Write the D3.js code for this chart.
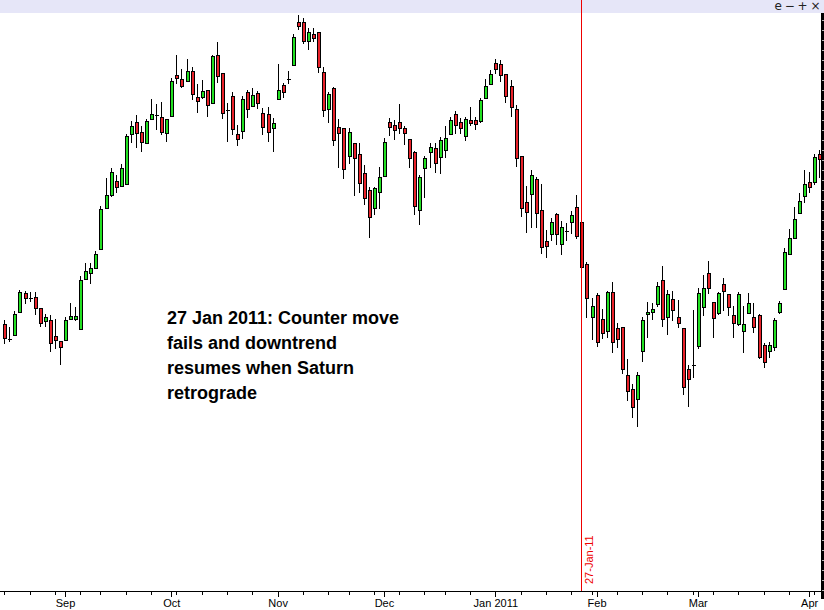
<!DOCTYPE html>
<html><head><meta charset="utf-8">
<script src="https://cdn.jsdelivr.net/npm/d3@7/dist/d3.min.js"></script>
<style>html,body{margin:0;padding:0;background:#fff;overflow:hidden}</style>
</head><body><svg id="c" width="824" height="610"></svg>
<script>
// Daily candles, 16 Aug 2010 .. 5 Apr 2011 (index = trading day), chart units
const openV = [276,261,265,288,307,302,303,292,279,280,264,259,260,281,281,271,321,327,332,351,392,405,419,414,416,
466,478,468,457,481,485,483,467,484,525,521,519,529,503,503,510,497,545,527,490,504,466,469,508,494,507,487,486,472,501,
515,521,535,578,578,559,566,568,528,491,512,473,472,444,457,446,427,410,392,408,424,478,475,478,472,461,448,390,432,448,
452,443,450,466,486,478,464,480,480,479,502,516,537,536,526,514,491,444,398,406,421,390,359,366,386,356,369,378,393,378,
336,283,305,281,269,308,272,273,225,211,201,249,286,288,296,320,283,301,283,272,231,235,254,293,327,298,287,316,306,285,
276,269,287,283,285,255,249,253,288,311,346,362,387,404,418,418,446];
const highV = [280,273,289,310,309,308,308,292,286,285,281,259,283,297,293,324,337,337,349,394,422,432,425,436,466,
479,485,474,481,501,496,498,481,522,545,531,541,533,516,520,510,545,558,527,497,508,475,504,510,512,509,492,493,482,536,
517,529,566,585,582,572,572,568,533,508,513,481,472,472,457,457,435,413,413,433,462,482,480,496,474,461,449,425,444,457,
457,463,474,483,489,482,483,493,483,502,521,530,541,540,526,520,495,444,414,430,423,416,370,382,387,379,377,389,405,382,
338,302,307,291,309,318,277,273,241,216,228,283,298,297,318,334,310,309,300,272,235,290,312,325,339,298,308,322,306,294,
308,294,307,297,286,257,258,282,299,352,371,393,407,430,428,446,450];
const lowV = [257,259,265,288,297,299,286,274,274,249,252,236,260,281,280,271,321,317,332,351,392,404,408,414,416,
458,453,449,457,481,471,466,459,484,517,513,519,501,488,502,484,497,518,482,459,466,455,462,483,494,492,466,459,449,501,
503,517,535,571,557,551,559,528,484,478,455,433,422,437,405,408,396,363,386,392,424,465,461,467,456,433,386,376,403,433,
428,427,443,466,467,467,460,475,471,478,502,516,527,519,498,484,434,384,368,373,373,347,343,360,356,346,360,367,362,332,
283,261,254,262,263,248,253,227,200,183,174,239,263,281,294,274,266,280,273,206,194,223,252,285,307,263,286,290,285,263,
275,248,287,268,242,233,243,250,287,311,346,362,387,398,408,416,423];
const closeV = [262,261,286,308,302,302,292,277,283,257,260,253,280,284,284,320,329,332,346,391,405,428,413,432,464,
474,467,458,479,486,485,468,481,519,522,514,529,506,499,509,495,544,524,487,490,471,461,501,491,505,497,473,468,477,510,
508,521,563,574,559,568,562,533,490,506,460,467,431,468,442,417,402,383,412,423,458,473,470,472,467,442,394,423,442,453,
437,460,462,480,475,472,481,477,476,500,514,526,531,525,504,493,442,392,388,425,387,353,354,378,366,373,369,385,364,333,
302,294,258,267,308,258,261,231,209,193,225,280,288,291,314,281,306,290,277,213,221,235,307,312,312,282,307,309,293,277,
306,276,297,273,243,238,255,280,297,348,362,381,399,416,413,443,441];

const monthLabels = ["Sep","Oct","Nov","Dec","Jan 2011","Feb","Mar","Apr"];
const monthStarts = [12,33,54,75,97,117,137,159];
const weekStarts = [0,5,10,15,19,24,29,34,39,44,49,54,59,64,68,73,78,83,87,92,97,102,107,112,116,121,126,131,136,140,145,150,155,160];
const eventIndex = 114;
const eventLabel = "27-Jan-11";
const noteLines = ["27 Jan 2011: Counter move","fails and downtrend","resumes when Saturn","retrograde"];

const W = 824, H = 610, axisY = 591;
const svg = d3.select("#c");
svg.append("rect").attr("width", W).attr("height", H).attr("fill", "#fff");

const x = d3.scaleLinear().domain([0, openV.length - 1]).range([4.3, 819.3]);
const y = d3.scaleLinear().domain([0, 600]).range([600, 0]);

// top band
svg.append("rect").attr("x", 0).attr("y", 0).attr("width", W).attr("height", 13).attr("fill", "#e6e6f8");
svg.append("text").attr("x", 820).attr("y", 10).attr("text-anchor", "end")
  .attr("font-family", "'DejaVu Sans', sans-serif").attr("font-size", 12).attr("fill", "#222")
  .attr("letter-spacing", -0.5)
  .text("e \u2212 + \u00d7");

// right edge bar
svg.append("rect").attr("x", 821).attr("y", 13).attr("width", 3).attr("height", axisY - 13 + 8).attr("fill", "#000");
const rTicks = d3.range(20, axisY, 10);
svg.selectAll("line.rt").data(rTicks).join("line").attr("class", "rt")
  .attr("x1", 822).attr("x2", 824).attr("y1", d => d + 0.5).attr("y2", d => d + 0.5)
  .attr("stroke", "#fff").attr("stroke-width", 1).attr("opacity", 0.7);

// candles
const data = openV.map((o, i) => ({i, o, h: highV[i], l: lowV[i], c: closeV[i]}));
const g = svg.append("g").attr("shape-rendering", "crispEdges");
const cg = g.selectAll("g.k").data(data).join("g").attr("class", "k");
cg.append("line")
  .attr("x1", d => Math.round(x(d.i)) + 0.5).attr("x2", d => Math.round(x(d.i)) + 0.5)
  .attr("y1", d => Math.round(y(d.h))).attr("y2", d => Math.round(y(d.l)) + 1)
  .attr("stroke", "#000").attr("stroke-width", 1);
cg.filter(d => d.o !== d.c).append("rect")
  .attr("x", d => Math.round(x(d.i)) - 0.5)
  .attr("y", d => Math.round(y(Math.max(d.o, d.c))) + 0.5)
  .attr("width", 3)
  .attr("height", d => Math.max(1, Math.round(y(Math.min(d.o, d.c))) - Math.round(y(Math.max(d.o, d.c)))))
  .attr("fill", d => d.c > d.o ? "#22e022" : "#e8222a")
  .attr("stroke", "#000").attr("stroke-width", 1);
cg.filter(d => d.o === d.c).append("line")
  .attr("x1", d => Math.round(x(d.i)) - 1).attr("x2", d => Math.round(x(d.i)) + 3)
  .attr("y1", d => Math.round(y(d.o)) + 0.5).attr("y2", d => Math.round(y(d.o)) + 0.5)
  .attr("stroke", "#000").attr("stroke-width", 1);

// event line
const ex = Math.round(x(eventIndex)) + 0.5;
svg.append("line").attr("x1", ex).attr("x2", ex).attr("y1", 0).attr("y2", axisY)
  .attr("stroke", "#ee0000").attr("stroke-width", 1).attr("shape-rendering", "crispEdges");
svg.append("text").attr("transform", `translate(${ex + 11},${axisY - 7}) rotate(-90)`)
  .attr("font-family", "'Liberation Sans', Arial, sans-serif").attr("font-size", 11)
  .attr("fill", "#ee0000").text(eventLabel);

// bottom axis
svg.append("line").attr("x1", 0).attr("x2", 822).attr("y1", axisY + 0.5).attr("y2", axisY + 0.5)
  .attr("stroke", "#000").attr("shape-rendering", "crispEdges");
const wk = svg.append("g").attr("transform", `translate(0,${axisY + 1})`)
  .call(d3.axisBottom(x).tickValues(weekStarts).tickFormat("").tickSize(3));
wk.select(".domain").remove();
const mo = svg.append("g").attr("transform", `translate(0,${axisY + 1})`)
  .call(d3.axisBottom(x).tickValues(monthStarts).tickFormat((d, k) => monthLabels[k]).tickSize(5).tickPadding(2));
mo.select(".domain").remove();
mo.selectAll("text").attr("font-family", "'Liberation Sans', Arial, sans-serif").attr("font-size", 11).attr("fill", "#000");
svg.selectAll(".tick line").attr("stroke", "#000").attr("shape-rendering", "crispEdges");

// annotation
const note = svg.append("text").attr("font-family", "'Liberation Sans', Arial, sans-serif")
  .attr("font-size", 18).attr("font-weight", "bold").attr("fill", "#000");
note.selectAll("tspan").data(noteLines).join("tspan")
  .attr("x", 167).attr("y", (d, k) => 324 + k * 25).text(d => d);
</script></body></html>
